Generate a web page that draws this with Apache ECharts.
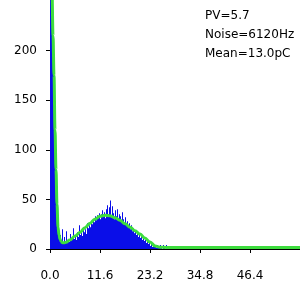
<!DOCTYPE html>
<html>
<head>
<meta charset="utf-8">
<script src="https://cdn.jsdelivr.net/npm/echarts@6/dist/echarts.min.js"></script>
<style>
html, body { margin: 0; padding: 0; background: #fff; }
#box { width: 300px; height: 300px; }
</style>
</head>
<body>
<div id="box"></div>
<script>
// histogram bins, width 0.232 starting at 0
var binWidth = 0.232;
var counts = [
    300, 300, 300, 200, 130, 90, 60, 38, 25, 18,
    14, 9, 20, 7, 12, 6, 18, 8, 10, 7,
    15, 9, 11, 21, 10, 13, 9, 17, 12, 24,
    14, 18, 13, 22, 17, 20, 15, 26, 21, 24,
    22, 28, 25, 30, 27, 33, 29, 34, 31, 36,
    30, 35, 39, 33, 37, 31, 40, 44, 35, 42,
    49, 34, 43, 36, 30, 39, 33, 40, 29, 35,
    33, 28, 37, 30, 26, 32, 24, 28, 22, 26,
    20, 24, 18, 21, 16, 19, 14, 17, 12, 15,
    11, 13, 9, 11, 8, 9, 6, 7, 5, 8,
    3, 5, 2, 4, 2, 3, 1, 4, 1, 2,
    4, 1, 0, 4, 1, 0, 4, 0, 1, 3,
    0, 0, 3, 0, 1, 2, 0, 0, 0, 0,
    2, 0, 0, 0, 1, 0, 0, 0, 2, 0,
    0, 0, 0, 0, 0, 1, 0, 0, 0, 0,
    0, 0, 0, 0, 0, 0, 0, 0, 0, 0,
    0, 0, 1, 0, 0, 0, 0, 0, 0, 0,
    0, 0, 0, 0, 0, 0, 0, 0, 0, 0,
    0, 0, 0, 0, 0, 0, 0, 3, 0, 0,
    0, 0, 0, 0, 0, 0, 0, 0, 0, 0,
    0, 0, 0, 0, 0, 0, 0, 0, 0, 0,
    0, 0, 0, 0, 0, 0, 0, 3, 0, 0,
    0, 0, 0, 0, 0, 0, 0, 0, 0, 0,
    0, 0, 0, 0, 0, 0, 0, 0, 0, 0,
    0, 0, 0, 0, 0, 0, 0, 0, 0, 0
];

// fitted curve
var fitX = [0.3, 0.46, 0.7, 0.93, 1.16, 1.39, 1.62, 1.86, 2.1, 2.32, 2.55, 2.78, 3.2, 3.7, 4.6, 5.8, 7.0, 8.1, 9.3, 10.4,
            11.6, 12.8, 13.9, 15.1, 16.2, 17.4, 18.6, 19.7, 20.9, 22.0, 23.2, 24.4, 25.5, 27, 30, 40, 50, 58];
var fitY = [400, 260, 215, 175, 120, 80, 45, 22, 14, 10, 8, 6.5, 6.2, 6.8, 9, 13, 17, 21.5, 26, 30,
            33, 34, 33.5, 31.5, 29, 25.5, 22, 18.5, 15, 11, 7, 3, 1.8, 1.5, 1.5, 1.5, 1.5, 1.5];

var xTicks = [0, 11.6, 23.2, 34.8, 46.4];
var yTicks = [0, 50, 100, 150, 200];
var notes = ['PV=5.7', 'Noise=6120Hz', 'Mean=13.0pC'];

var bars = counts.map(function (c, i) { return [binWidth * i + binWidth / 2, c]; });
var fit = fitX.map(function (x, i) { return [x, fitY[i]]; });

var chart = echarts.init(document.getElementById('box'));
var font = 'DejaVu Sans';

var option = {
    animation: false,
    grid: { left: 50, right: 0, top: 0, bottom: 51 },
    textStyle: { fontFamily: font },
    graphic: [{
        type: 'text',
        left: 205,
        top: 6,
        style: {
            text: notes.join('\n'),
            font: '12px ' + font,
            fill: '#000',
            lineHeight: 19
        }
    }],
    xAxis: {
        type: 'value',
        min: 0,
        max: 58,
        splitLine: { show: false },
        axisLine: { lineStyle: { color: '#000', width: 1 } },
        axisTick: { customValues: xTicks, length: 4, lineStyle: { color: '#000' } },
        axisLabel: {
            customValues: xTicks,
            color: '#000',
            fontSize: 12,
            margin: 21,
            formatter: function (v) { return v.toFixed(1); }
        }
    },
    yAxis: {
        type: 'value',
        min: 0,
        max: 251,
        splitLine: { show: false },
        axisLine: { show: true, lineStyle: { color: '#000', width: 1 } },
        axisTick: { show: true, customValues: yTicks, length: 4, lineStyle: { color: '#000' } },
        axisLabel: { customValues: yTicks, color: '#000', fontSize: 12, margin: 13 }
    },
    series: [{
        type: 'bar',
        data: bars,
        barWidth: 1,
        barGap: 0,
        itemStyle: { color: '#0a0ee8' }
    }, {
        type: 'line',
        data: fit,
        smooth: 0.4,
        smoothMonotone: 'x',
        symbol: 'none',
        lineStyle: { color: '#3ddc3d', width: 3 },
        z: 5
    }]
};
chart.setOption(option);
</script>
</body>
</html>
